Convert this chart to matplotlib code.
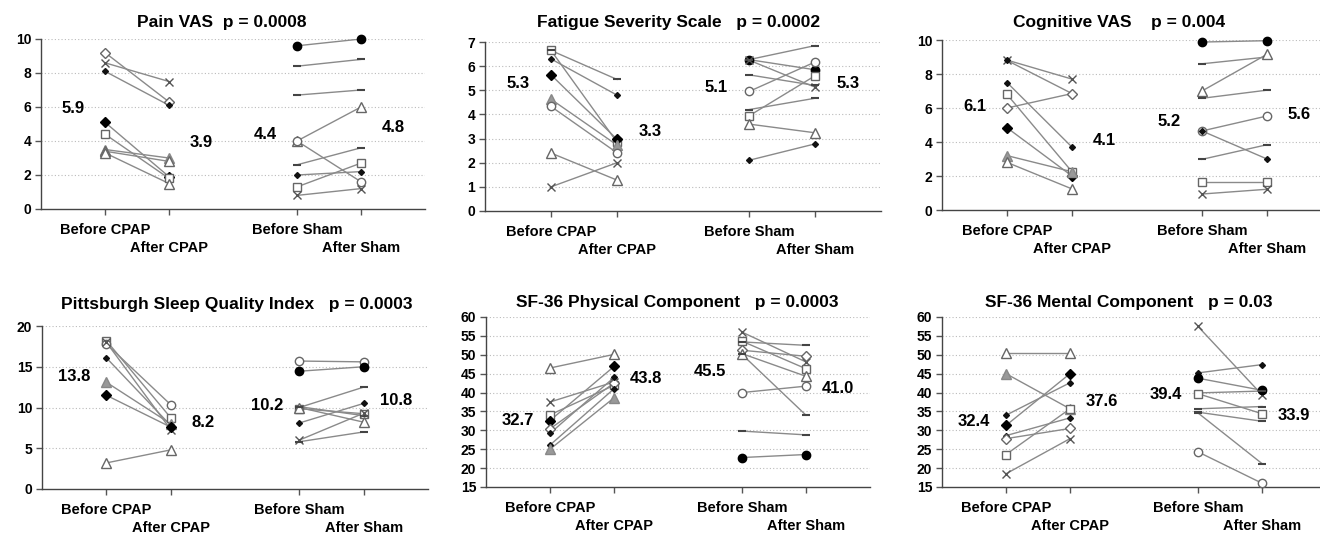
import numpy as np
import matplotlib
matplotlib.use('Agg')
import matplotlib.pyplot as plt

plt.rcParams['font.family'] = ['Liberation Sans', 'DejaVu Sans']
plt.rcParams['font.weight'] = 'bold'

# ---- data ----
categories = ['Before CPAP', 'After CPAP', 'Before Sham', 'After Sham']

pain_cpap_before = [9.2, 8.6, 8.1, 5.1, 4.4, 3.5, 3.4, 3.3]
pain_cpap_after = [6.3, 7.5, 6.1, 1.9, 1.8, 3.0, 2.8, 1.5]
pain_cpap_marks = ['Do', 'x', 'dot', 'Df', 's', '^g', '^', '^']
pain_sham_before = [9.6, 8.4, 6.7, 4.0, 4.0, 2.6, 2.0, 1.3, 0.8]
pain_sham_after = [10.0, 8.8, 7.0, 6.0, 1.6, 3.6, 2.2, 2.7, 1.2]
pain_sham_marks = ['of', '_', '_', '^', 'o', '_', 'dot', 's', 'x']
pain_means = [5.9, 3.9, 4.4, 4.8]

fss_cpap_before = [6.65, 6.65, 6.3, 5.64, 4.63, 4.33, 2.4, 1.0]
fss_cpap_after = [2.85, 5.45, 4.8, 2.97, 2.73, 2.41, 1.28, 2.0]
fss_cpap_marks = ['s', '_', 'dot', 'Df', '^g', 'o', '^', 'x']
fss_sham_before = [6.27, 6.27, 6.25, 5.64, 4.95, 4.2, 3.94, 3.6, 2.1]
fss_sham_after = [5.85, 6.85, 5.13, 5.2, 6.17, 4.67, 5.6, 3.24, 2.78]
fss_sham_marks = ['of', '_', 'x', '_', 'o', '_', 's', '^', 'dot']
fss_means = [5.3, 3.3, 5.1, 5.3]

cog_cpap_before = [8.82, 8.8, 7.5, 6.8, 6.0, 4.84, 3.2, 2.8]
cog_cpap_after = [7.7, 6.85, 3.7, 2.25, 6.85, 2.0, 2.25, 1.24]
cog_cpap_marks = ['x', 'dot', 'dot', 's', 'Do', 'Df', '^g', '^']
cog_sham_before = [9.88, 8.6, 7.0, 6.57, 4.65, 4.65, 2.98, 1.63, 0.94]
cog_sham_after = [9.96, 9.0, 9.16, 7.05, 5.53, 3.0, 3.84, 1.63, 1.22]
cog_sham_marks = ['of', '_', '^', '_', 'o', 'dot', '_', 's', 'x']
cog_means = [6.1, 4.1, 5.2, 5.6]

psqi_cpap_before = [18.2, 17.8, 18.0, 16.1, 13.1, 11.5, 3.2]
psqi_cpap_after = [8.75, 10.35, 7.3, 7.8, 8.0, 7.6, 4.8]
psqi_cpap_marks = ['s', 'o', 'x', 'dot', '^g', 'Df', '^']
psqi_sham_before = [15.7, 14.45, 9.85, 10.0, 10.0, 10.1, 8.1, 6.0, 5.8]
psqi_sham_after = [15.6, 15.0, 9.24, 12.5, 8.2, 9.0, 10.5, 9.3, 7.0]
psqi_sham_marks = ['o', 'of', 's', '_', '^', '_', 'dot', 'x', '_']
psqi_means = [13.8, 8.2, 10.2, 10.8]

phys_cpap_before = [46.5, 37.5, 34.1, 32.6, 30.4, 29.2, 26.1, 25.0]
phys_cpap_after = [50.1, 42.8, 41.9, 46.9, 42.5, 44.0, 41.0, 38.6]
phys_cpap_marks = ['^', 'x', 's', 'Df', 'Do', 'dot', 'dot', '^g']
phys_sham_before = [56.0, 53.6, 53.4, 51.2, 50.3, 50.1, 40.0, 29.8, 22.8]
phys_sham_after = [48.1, 46.3, 52.5, 49.6, 44.3, 34.0, 41.7, 28.8, 23.6]
phys_sham_marks = ['x', 's', '_', 'Do', '^', '_', 'o', '_', 'of']
phys_means = [32.7, 43.8, 45.5, 41.0]

ment_cpap_before = [50.5, 45.0, 34.0, 31.3, 28.6, 27.8, 23.6, 18.5]
ment_cpap_after = [50.5, 35.7, 42.6, 45.0, 33.3, 30.5, 35.7, 27.8]
ment_cpap_marks = ['^', '^g', 'dot', 'Df', 'dot', 'Do', 's', 'x']
ment_sham_before = [57.5, 45.2, 43.8, 39.9, 39.7, 35.7, 34.8, 34.6, 24.3]
ment_sham_after = [39.4, 47.4, 40.6, 40.4, 34.4, 36.3, 32.4, 21.2, 16.0]
ment_sham_marks = ['x', 'dot', 'of', '_', 's', '_', '_', '_', 'o']
ment_means = [32.4, 37.6, 39.4, 33.9]

titles = ['Pain VAS  p = 0.0008', 'Fatigue Severity Scale   p = 0.0002',
          'Cognitive VAS    p = 0.004', 'Pittsburgh Sleep Quality Index   p = 0.0003',
          'SF-36 Physical Component   p = 0.0003', 'SF-36 Mental Component   p = 0.03']

styles = {
    'Do': dict(marker='D', ms=5, mfc='white', mec='#666666', mew=1),
    'x': dict(marker='x', ms=5.5, mec='#555555', mew=1),
    'dot': dict(marker='D', ms=3, mfc='#111111', mec='#111111'),
    'Df': dict(marker='D', ms=5, mfc='black', mec='black'),
    's': dict(marker='s', ms=6, mfc='white', mec='#666666', mew=1),
    '^': dict(marker='^', ms=6.5, mfc='white', mec='#666666', mew=1),
    '^g': dict(marker='^', ms=6.5, mfc='#999999', mec='#888888', mew=1),
    'o': dict(marker='o', ms=6, mfc='white', mec='#666666', mew=1),
    'of': dict(marker='o', ms=6, mfc='black', mec='black'),
    '_': dict(marker='_', ms=6, mec='#444444', mew=1.5),
}

panels = [
    (pain_cpap_before, pain_cpap_after, pain_cpap_marks, pain_sham_before, pain_sham_after, pain_sham_marks, pain_means, (0, 10, 2)),
    (fss_cpap_before, fss_cpap_after, fss_cpap_marks, fss_sham_before, fss_sham_after, fss_sham_marks, fss_means, (0, 7, 1)),
    (cog_cpap_before, cog_cpap_after, cog_cpap_marks, cog_sham_before, cog_sham_after, cog_sham_marks, cog_means, (0, 10, 2)),
    (psqi_cpap_before, psqi_cpap_after, psqi_cpap_marks, psqi_sham_before, psqi_sham_after, psqi_sham_marks, psqi_means, (0, 20, 5)),
    (phys_cpap_before, phys_cpap_after, phys_cpap_marks, phys_sham_before, phys_sham_after, phys_sham_marks, phys_means, (15, 60, 5)),
    (ment_cpap_before, ment_cpap_after, ment_cpap_marks, ment_sham_before, ment_sham_after, ment_sham_marks, ment_means, (15, 60, 5)),
]

# axes boxes in pixels: left, right, top, bottom
W, H = 1320, 534
boxes = [(41, 425, 39, 209), (485, 881, 42, 211), (942, 1332, 40, 210),
         (42, 428, 326, 489), (486, 870, 317, 487), (942, 1326, 317, 487)]
title_pos = [(222, 23), (679, 23), (1119, 23), (237, 304), (677, 303), (1129, 302)]
xpos = [1, 2, 4, 5]
mean_x = [0.5, 2.5, 3.5, 5.5]

fig = plt.figure(figsize=(W / 100, H / 100), dpi=100)
fig.patch.set_facecolor('w')

for i, (cb, ca, cm, sb, sa, sm, means, (y0, y1, ys)) in enumerate(panels):
    l, r, t, b = boxes[i]
    rr = min(r, W)
    xmax = 6 * (rr - l) / (r - l)
    ax = fig.add_axes([l / W, 1 - b / H, (rr - l) / W, (b - t) / H])
    for before, after, marks, x0 in [(cb, ca, cm, 1), (sb, sa, sm, 4)]:
        for bv, av, mk in zip(before, after, marks):
            ax.plot([x0, x0 + 1], [bv, av], color='#8a8a8a', lw=1, zorder=2)
            ax.plot([x0, x0 + 1], [bv, av], ls='none', zorder=3, clip_on=False, **styles[mk])
    for mx, mv in zip(mean_x, means):
        ax.text(mx, mv, f'{mv:.1f}', ha='center', va='center', fontsize=12, fontweight='bold')
    ax.set_xlim(0, xmax)
    ax.set_ylim(y0, y1)
    yt = np.arange(y0, y1 + ys / 2, ys)
    ax.set_yticks(yt)
    ax.set_yticklabels([f'{v:g}' for v in yt], fontsize=10, fontweight='bold')
    for v in yt[1:]:
        ax.axhline(v, color='#bbbbbb', lw=0.8, ls=(0, (1, 2)), zorder=1)
    ax.set_xticks(xpos)
    ax.set_xticklabels([])
    ax.tick_params(axis='both', direction='out', length=4, width=1, color='#555555', pad=3)
    for s in ['top', 'right']:
        ax.spines[s].set_visible(False)
    for s in ['left', 'bottom']:
        ax.spines[s].set_color('#444444')
        ax.spines[s].set_linewidth(1)
    for k, (xp, lab) in enumerate(zip(xpos, categories)):
        off = -21 if k % 2 == 0 else -39
        ax.annotate(lab, xy=(xp, 0), xycoords=('data', 'axes fraction'),
                    xytext=(0, off), textcoords='offset pixels',
                    ha='center', va='center', fontsize=10.5, fontweight='bold')
    tx, ty = title_pos[i]
    fig.text(tx / W, 1 - ty / H, titles[i], ha='center', va='center',
             fontsize=12.5, fontweight='bold')

plt.savefig('out.png', dpi=100)
